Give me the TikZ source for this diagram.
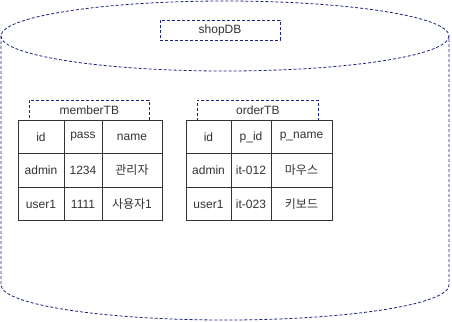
\documentclass[tikz,border=0pt]{standalone}
\usepackage{fontspec}
\setmainfont{Liberation Sans}
\newfontfamily\kr{Noto Sans CJK KR}
\definecolor{navy}{HTML}{1A237E}
\definecolor{txt}{HTML}{333333}
\begin{document}
\begin{tikzpicture}[x=1pt,y=-1pt,
  cyl/.style={draw=navy,dash pattern=on 3pt off 2pt,line width=0.8pt},
  lbl/.style={draw=navy,dash pattern=on 3pt off 2pt,line width=0.7pt,inner sep=0pt,text=txt,font=\fontsize{12}{14}\selectfont},
  tbl/.style={draw=txt,line width=0.9pt},
  cell/.style={text=txt,font=\fontsize{12}{14}\selectfont,inner sep=0pt}]
\useasboundingbox (0,0) rectangle (452,321);
% cylinder
\draw[cyl] (225,36) ellipse [x radius=224, y radius=35];
\draw[cyl] (1,36) -- (1,285) arc[start angle=180,end angle=0,x radius=224,y radius=35] -- (449,36);
% shopDB label
\node[lbl,minimum width=120pt,minimum height=20pt] (shop) at (220,30) {shopDB};
% memberTB
\node[lbl,minimum width=120pt,minimum height=20pt,anchor=north west] (mlbl) at (29,100) {memberTB};
\draw[tbl,fill=white] (18,120) rectangle (162,220);
\draw[tbl] (18,153) -- (162,153) (18,187) -- (162,187) (64,120) -- (64,220) (102,120) -- (102,220);
\node[cell] (m11) at (41,137) {id};
\node[cell] (m12) at (83,137) {pass};
\node[cell] (m13) at (132,137) {name};
\node[cell] (m21) at (41,170) {admin};
\node[cell] (m22) at (83,170) {1234};
\node[cell] (m23) at (132,170) {\kr 관리자};
\node[cell] (m31) at (41,204) {user1};
\node[cell] (m32) at (83,204) {1111};
\node[cell] (m33) at (132,204) {\kr 사용자1};
% orderTB
\node[lbl,minimum width=121pt,minimum height=20pt,anchor=north west] (olbl) at (197,100) {orderTB};
\draw[tbl,fill=white] (186,120) rectangle (332,220);
\draw[tbl] (186,153) -- (332,153) (186,187) -- (332,187) (231,120) -- (231,220) (271,120) -- (271,220);
\node[cell] (o11) at (208.5,137) {id};
\node[cell] (o12) at (251,137) {p\_id};
\node[cell] (o13) at (301.5,137) {p\_name};
\node[cell] (o21) at (208.5,170) {admin};
\node[cell] (o22) at (251,170) {it-012};
\node[cell] (o23) at (301.5,170) {\kr 마우스};
\node[cell] (o31) at (208.5,204) {user1};
\node[cell] (o32) at (251,204) {it-023};
\node[cell] (o33) at (301.5,204) {\kr 키보드};
\end{tikzpicture}
\end{document}
